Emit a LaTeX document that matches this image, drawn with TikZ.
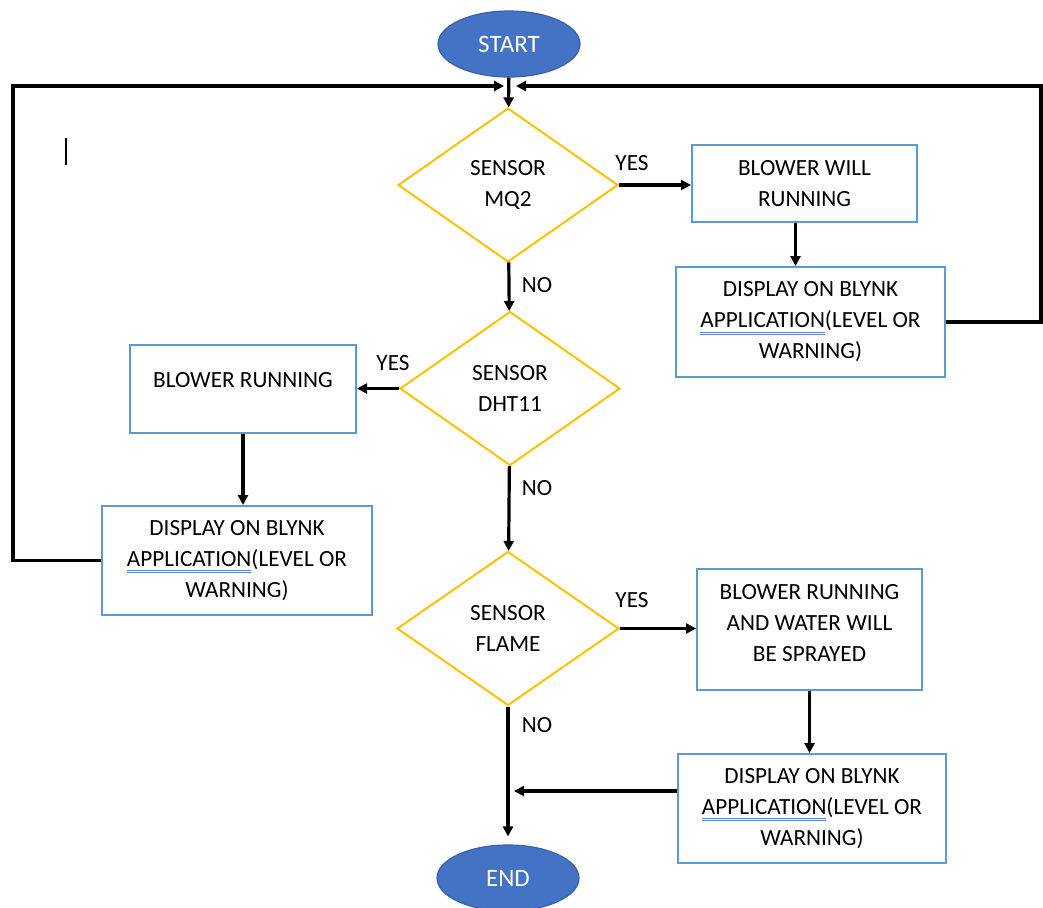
\documentclass[tikz,border=0pt]{standalone}
\usepackage{fontspec}
\setmainfont{Carlito}
\usetikzlibrary{arrows.meta,positioning,shapes.geometric,calc}
\definecolor{termblue}{HTML}{4472C4}
\definecolor{boxblue}{HTML}{5B9BD5}
\definecolor{decgold}{HTML}{FFC000}
\definecolor{spellblue}{HTML}{5B7FE0}
\newcommand\spellmark[1]{\setbox0\hbox{#1}\rlap{\color{spellblue}\rule[-2.2pt]{\wd0}{0.4pt}}\rlap{\color{spellblue}\rule[-3.4pt]{\wd0}{0.4pt}}\box0}
\newcommand\blynktext{DISPLAY ON BLYNK\\\spellmark{APPLICATION}(LEVEL OR\\WARNING)}
\tikzset{>={Triangle[length=5pt,width=5pt]},
    terminal/.style={ellipse, draw=termblue!85!black, fill=termblue, text=white, line width=0.6pt,
        minimum width=71pt, minimum height=33pt, font=\fontsize{12.5}{14}\selectfont},
    decision/.style={diamond, draw=decgold, line width=1pt, inner sep=0pt, align=center,
        minimum width=110pt, minimum height=77pt},
    process/.style={rectangle, draw=boxblue, line width=1pt, align=center},
    flow/.style={->, line width=1.6pt},
    answer/.style={inner sep=1pt}}

\begin{document}
\begin{tikzpicture}[x=0.5pt, y=-0.5pt, font=\fontsize{11.6}{15.5}\selectfont]
    \useasboundingbox (0,0) rectangle (1043,907);

    % terminals and decisions
    \node[terminal] (start) at (509,44) {START};
    \node[decision] (mq2) at (508,185) {SENSOR\\MQ2};
    \node[decision] (dht) at (510,388.5) {SENSOR\\DHT11};
    \node[decision, minimum width=111pt] (flame) at (508,628.5) {SENSOR\\FLAME};
    \node[terminal] (end) at (508,878) {END};

    % process boxes
    \node[process, minimum width=112.5pt, minimum height=38.5pt] (blowA) at (804.5,183.5) {BLOWER WILL\\RUNNING};
    \node[process, minimum width=134.5pt, minimum height=55pt] (dispA) at (810.5,322) {\blynktext};
    \node[process, minimum width=113pt, minimum height=44pt,
        label={[yshift=4.5pt]center:BLOWER RUNNING}] (blowB) at (243,389) {};
    \node[process, minimum width=135pt, minimum height=54.5pt] (dispB) at (237,560.5) {\blynktext};
    \node[process, minimum width=112.5pt, minimum height=60.5pt,
        label={[yshift=3pt, align=center]center:BLOWER RUNNING\\AND WATER WILL\\BE SPRAYED}] (blowC) at (809.5,629.5) {};
    \node[process, minimum width=134pt, minimum height=54.5pt] (dispC) at (812,808.5) {\blynktext};

    % answers
    \node[answer] (yes1) at (632,163) {YES};
    \node[answer] (no1) at (537,285) {NO};
    \node[answer] (yes2) at (393,363) {YES};
    \node[answer] (no2) at (537,488) {NO};
    \node[answer] (yes3) at (632,600) {YES};
    \node[answer] (no3) at (537,725) {NO};

    \coordinate (joinL) at (504,86);
    \coordinate (joinR) at (516,86);
    \coordinate (loopL) at (13,86);
    \coordinate (loopR) at (1041,86);
    \coordinate (merge) at (514,791);

    % main line
    \draw[flow] (start) -- (mq2);
    \draw[flow] (mq2) -- (dht);
    \draw[flow] (dht) -- (flame);
    \draw[flow, shorten >=4pt] (flame) -- (end);

    % yes branches
    \draw[flow] (mq2.east) -- (mq2.east -| blowA.west);
    \draw[flow] ([xshift=-4.5pt]blowA.south) -- ([xshift=-4.5pt]blowA.south |- dispA.north);
    \draw[flow] (dht.west) -- (dht.west -| blowB.east);
    \draw[flow] (blowB.south) -- (blowB.south |- dispB.north);
    \draw[flow] (flame.east) -- (flame.east -| blowC.west);
    \draw[flow] (blowC.south) -- (blowC.south |- dispC.north);

    % back to the start
    \draw[flow] (dispB.west) -| (loopL) -- (joinL);
    \draw[flow] (dispA.east) -| (loopR) -- (joinR);
    \draw[flow] (merge -| dispC.west) -- (merge);

    % text cursor
    \draw[line width=0.6pt] (66,138) -- (66,165);
\end{tikzpicture}
\end{document}
